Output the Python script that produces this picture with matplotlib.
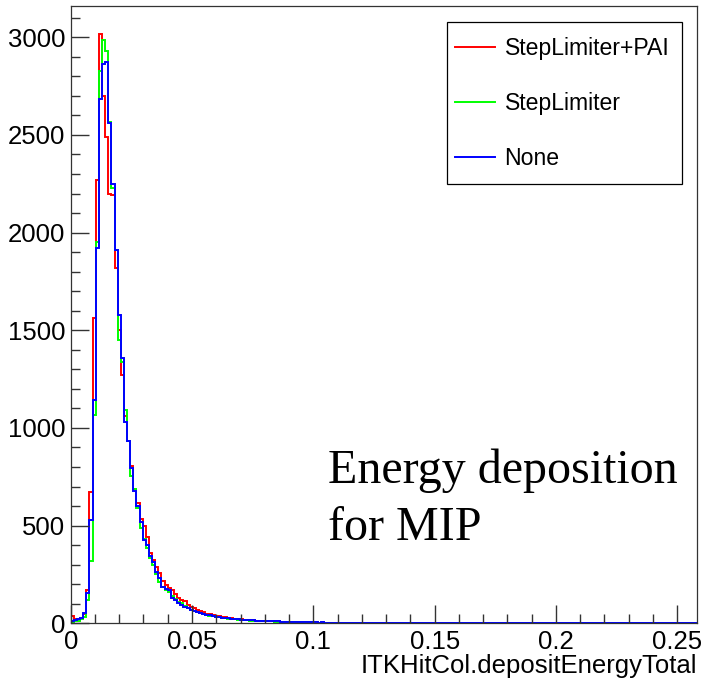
import numpy as np
import matplotlib
matplotlib.use("Agg")
import matplotlib.pyplot as plt
from matplotlib.lines import Line2D
from matplotlib.patches import Rectangle
from matplotlib.ticker import MultipleLocator, FuncFormatter

plt.rcParams['font.family'] = ['Liberation Sans', 'DejaVu Sans']

# 200 bins over the ROOT auto range
x_min, x_max, n_bins = 0.0, 0.258, 200

labels = ["StepLimiter+PAI", "StepLimiter", "None"]
colors = ["#ff0000", "#00ff00", "#0000ff"]

step_pai = [
    38, 20, 18, 26, 50, 171, 670, 1563, 2270, 3018,
    2698, 2488, 2200, 2190, 1818, 1502, 1272, 1060, 935, 805,
    690, 615, 535, 500, 440, 361, 325, 290, 258, 215,
    195, 180, 171, 151, 130, 120, 112, 95, 86, 76,
    69, 64, 57, 50, 46, 42, 38, 35, 32, 30,
    27, 25, 23, 22, 20, 18, 17, 16, 15, 14,
    13, 13, 12, 11, 11, 10, 10, 9, 8, 8,
    8, 7, 7, 6, 6, 5, 6, 5, 5, 4,
    4, 4, 4, 3, 4, 3, 3, 3, 2, 3,
    2, 2, 3, 2, 2, 1, 2, 1, 2, 1,
    1, 2, 1, 1, 1, 0, 1, 1, 0, 1,
    1, 0, 1, 0, 1, 1, 0, 0, 1, 0,
    1, 0, 0, 1, 0, 1, 0, 0, 0, 1,
    0, 0, 1, 0, 0, 0, 1, 0, 0, 0,
    1, 0, 0, 0, 0, 1, 0, 0, 0, 0,
    0, 1, 0, 0, 0, 0, 0, 1, 0, 0,
    0, 0, 0, 0, 1, 0, 0, 0, 0, 0,
    0, 0, 0, 1, 0, 0, 0, 0, 0, 0,
    0, 0, 0, 0, 0, 1, 0, 0, 0, 0,
    0, 0, 0, 0, 0, 0, 0, 0, 0, 0,
]

step_only = [
    8, 10, 12, 20, 30, 120, 320, 1067, 1950, 2826,
    2988, 2931, 2566, 2227, 1911, 1451, 1340, 1090, 935, 755,
    690, 590, 489, 430, 385, 335, 300, 250, 210, 185,
    171, 160, 140, 125, 110, 103, 90, 80, 70, 62,
    58, 52, 46, 42, 39, 36, 33, 30, 28, 26,
    24, 22, 20, 19, 18, 16, 15, 14, 14, 13,
    12, 12, 11, 10, 10, 9, 9, 8, 8, 7,
    7, 7, 6, 6, 5, 5, 5, 5, 4, 4,
    4, 3, 4, 3, 3, 3, 3, 2, 3, 2,
    2, 2, 2, 1, 2, 2, 1, 1, 2, 1,
    1, 1, 2, 1, 1, 0, 1, 0, 1, 1,
    0, 1, 0, 0, 1, 0, 1, 0, 0, 1,
    0, 0, 1, 0, 0, 0, 1, 0, 1, 0,
    0, 0, 0, 1, 0, 0, 0, 0, 1, 0,
    0, 0, 0, 0, 0, 1, 0, 0, 0, 0,
    1, 0, 0, 0, 0, 0, 0, 0, 1, 0,
    0, 0, 0, 0, 0, 0, 1, 0, 0, 0,
    0, 0, 0, 0, 0, 0, 0, 0, 0, 1,
    0, 0, 0, 0, 0, 0, 0, 0, 0, 0,
    0, 0, 0, 0, 0, 0, 0, 0, 0, 0,
]

none = [
    13, 15, 20, 28, 54, 155, 530, 1143, 1920, 2684,
    2865, 2872, 2561, 2248, 1911, 1579, 1357, 1033, 931, 794,
    675, 598, 521, 427, 402, 342, 316, 265, 231, 188,
    177, 171, 129, 120, 103, 95, 86, 80, 69, 65,
    60, 52, 48, 44, 40, 37, 34, 31, 29, 27,
    25, 23, 21, 20, 19, 17, 16, 15, 15, 14,
    13, 13, 12, 11, 11, 10, 10, 9, 9, 8,
    8, 7, 7, 6, 6, 6, 5, 5, 5, 4,
    5, 4, 4, 4, 3, 4, 3, 3, 3, 2,
    3, 2, 2, 2, 2, 1, 2, 2, 1, 2,
    1, 1, 1, 2, 1, 1, 0, 1, 2, 1,
    0, 1, 1, 0, 1, 1, 0, 1, 0, 1,
    1, 0, 0, 1, 0, 1, 0, 1, 0, 0,
    1, 0, 1, 0, 0, 1, 0, 0, 1, 0,
    0, 0, 1, 0, 0, 1, 0, 0, 0, 1,
    0, 0, 0, 1, 0, 0, 0, 0, 1, 0,
    0, 0, 0, 0, 0, 0, 0, 1, 0, 0,
    0, 0, 0, 1, 0, 0, 0, 0, 0, 0,
    1, 0, 0, 0, 0, 0, 0, 1, 0, 0,
    0, 0, 0, 0, 0, 0, 1, 0, 0, 0,
]

edges = np.linspace(x_min, x_max, n_bins + 1)

W, H = 710, 680
fig = plt.figure(figsize=(7.1, 6.8), dpi=100)
fig.set_facecolor("white")
ax = fig.add_axes([70.7 / W, (H - 623.3) / H, (696.7 - 70.7) / W, (623.3 - 6) / H])

for vals, col in zip([step_pai, step_only, none], colors):
    ax.stairs(vals, edges, color=col, lw=1.4)

ax.set_xlim(x_min, x_max)
ax.set_ylim(0, 3160)

ax.xaxis.set_major_locator(MultipleLocator(0.05))
ax.xaxis.set_minor_locator(MultipleLocator(0.01))
ax.yaxis.set_major_locator(MultipleLocator(500))
ax.yaxis.set_minor_locator(MultipleLocator(100))
ax.xaxis.set_major_formatter(FuncFormatter(lambda v, p: "%g" % round(v, 3)))
ax.yaxis.set_major_formatter(FuncFormatter(lambda v, p: "%d" % v))

ax.tick_params(which="both", direction="in", top=False, right=False, color="#333333", width=1)
ax.tick_params(which="major", length=13, labelsize=18.5)
ax.tick_params(axis="x", which="major", pad=5)
ax.tick_params(axis="y", which="major", pad=4)
ax.tick_params(which="minor", length=6.5)
for s in ax.spines.values():
    s.set_linewidth(0.9)
    s.set_color("#333333")

ax.set_xlabel("ITKHitCol.depositEnergyTotal", fontsize=18.5, loc="right", labelpad=0)

# legend entries without frame, box drawn separately (ROOT TLegend look)
handles = [Line2D([], [], color=c, lw=1.4) for c in colors]
leg = ax.legend(handles, labels, loc="upper left",
                bbox_to_anchor=(455 / W, 1 - 37.5 / H), bbox_transform=fig.transFigure,
                fontsize=16.6, frameon=False,
                borderpad=0, labelspacing=1.37, handlelength=1.75, handletextpad=0.4,
                borderaxespad=0)
fig.add_artist(Rectangle((447 / W, 1 - 184 / H), 235 / W, 162 / H, transform=fig.transFigure,
                         fill=False, edgecolor="black", lw=0.9))

fig.text(328 / W, 1 - 483 / H, "Energy deposition", fontsize=34.6,
         family=["Liberation Serif", "DejaVu Serif"], va="baseline", ha="left")
fig.text(328 / W, 1 - 540 / H, "for MIP", fontsize=34.6,
         family=["Liberation Serif", "DejaVu Serif"], va="baseline", ha="left")

fig.savefig("out.png", dpi=100)
